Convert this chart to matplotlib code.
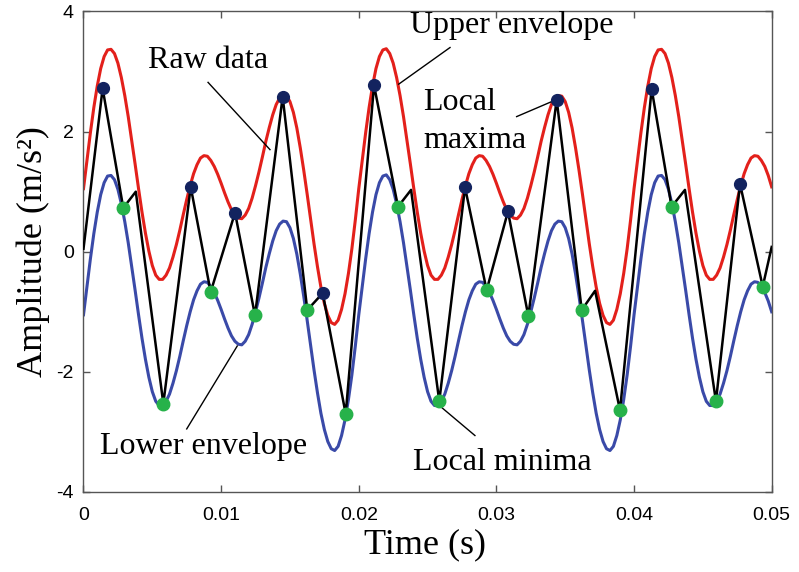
import numpy as np
import matplotlib
matplotlib.use("Agg")
import matplotlib.pyplot as plt

plt.rcParams["axes.unicode_minus"] = False

# Raw signal vertices (time in s, amplitude in m/s^2)
raw_t = [0.0, 0.00139, 0.00289, 0.0038, 0.0058, 0.00779, 0.00924, 0.01101,
         0.01246, 0.01447, 0.01626, 0.01738, 0.01905, 0.02111, 0.02285, 0.0238,
         0.02585, 0.02772, 0.02929, 0.03084, 0.03232, 0.03438, 0.0362, 0.03717,
         0.03898, 0.04128, 0.04273, 0.0437, 0.04595, 0.0477, 0.04935, 0.05]
raw_v = [0.05, 2.72, 0.73, 1.0, -2.53, 1.08, -0.67, 0.65,
         -1.06, 2.58, -0.97, -0.69, -2.70, 2.77, 0.75, 1.03,
         -2.49, 1.07, -0.64, 0.67, -1.07, 2.53, -0.97, -0.65,
         -2.64, 2.71, 0.75, 1.03, -2.49, 1.13, -0.58, 0.08]

# Local maxima / minima markers
max_t = [0.00139, 0.00779, 0.01101, 0.01447, 0.01738, 0.02111, 0.02772,
         0.03084, 0.03438, 0.04128, 0.0477]
max_v = [2.72, 1.08, 0.65, 2.58, -0.69, 2.77, 1.07, 0.67, 2.53, 2.71, 1.13]
min_t = [0.00289, 0.0058, 0.00924, 0.01246, 0.01626, 0.01905, 0.02285,
         0.02585, 0.02929, 0.03232, 0.0362, 0.03898, 0.04273, 0.04595, 0.04935]
min_v = [0.73, -2.53, -0.67, -1.06, -0.97, -2.70, 0.75, -2.49, -0.64, -1.07,
         -0.97, -2.64, 0.75, -2.49, -0.58]

# Envelopes, read every 0.25 ms (0 .. 0.02, 0.02025 .. 0.04, 0.04025 .. 0.05)
upper_a = [1.05, 1.52, 1.98, 2.40, 2.76, 3.05, 3.25, 3.36, 3.37, 3.30,
           3.14, 2.90, 2.60, 2.25, 1.86, 1.46, 1.05, 0.66, 0.31, 0.01,
           -0.23, -0.39, -0.46, -0.46, -0.39, -0.27, -0.09, 0.12, 0.36, 0.62,
           0.87, 1.10, 1.30, 1.45, 1.56, 1.60, 1.59, 1.52, 1.42, 1.29,
           1.14, 0.98, 0.83, 0.70, 0.61, 0.56, 0.55, 0.61, 0.72, 0.89,
           1.10, 1.33, 1.58, 1.84, 2.07, 2.28, 2.45, 2.56, 2.61, 2.60,
           2.50, 2.32, 2.06, 1.73, 1.36, 0.96, 0.54, 0.13, -0.25, -0.59,
           -0.86, -1.06, -1.18, -1.21, -1.14, -0.96, -0.70, -0.36, 0.05, 0.53,
           1.05]
upper_b = [1.52, 1.98, 2.40, 2.76, 3.05, 3.25, 3.36, 3.38, 3.30, 3.14,
           2.90, 2.60, 2.25, 1.86, 1.46, 1.05, 0.66, 0.31, 0.01, -0.23,
           -0.39, -0.46, -0.46, -0.39, -0.27, -0.09, 0.12, 0.36, 0.62, 0.87,
           1.10, 1.30, 1.45, 1.56, 1.60, 1.59, 1.52, 1.42, 1.29, 1.14,
           0.98, 0.83, 0.70, 0.61, 0.56, 0.55, 0.61, 0.72, 0.89, 1.10,
           1.33, 1.58, 1.84, 2.07, 2.28, 2.45, 2.56, 2.60, 2.59, 2.50,
           2.32, 2.06, 1.73, 1.36, 0.96, 0.54, 0.13, -0.25, -0.59, -0.86,
           -1.06, -1.18, -1.21, -1.14, -0.96, -0.70, -0.36, 0.05, 0.53, 1.05]
upper_c = [1.52, 1.98, 2.40, 2.76, 3.05, 3.25, 3.36, 3.37, 3.30, 3.14,
           2.90, 2.60, 2.25, 1.86, 1.46, 1.05, 0.66, 0.31, 0.01, -0.23,
           -0.39, -0.46, -0.46, -0.39, -0.27, -0.09, 0.12, 0.36, 0.62, 0.87,
           1.10, 1.30, 1.45, 1.56, 1.60, 1.59, 1.52, 1.42, 1.27, 1.08]
lower_a = [-1.05, -0.58, -0.12, 0.30, 0.66, 0.95, 1.15, 1.26, 1.27, 1.20,
           1.04, 0.80, 0.50, 0.15, -0.24, -0.64, -1.05, -1.44, -1.79, -2.09,
           -2.33, -2.49, -2.56, -2.56, -2.49, -2.37, -2.19, -1.98, -1.74, -1.48,
           -1.23, -1.00, -0.80, -0.65, -0.54, -0.50, -0.51, -0.58, -0.68, -0.81,
           -0.96, -1.12, -1.27, -1.40, -1.49, -1.54, -1.55, -1.49, -1.38, -1.21,
           -1.00, -0.77, -0.52, -0.26, -0.03, 0.18, 0.35, 0.46, 0.51, 0.50,
           0.40, 0.22, -0.04, -0.37, -0.74, -1.14, -1.56, -1.97, -2.35, -2.69,
           -2.96, -3.16, -3.28, -3.31, -3.24, -3.06, -2.80, -2.46, -2.05, -1.57,
           -1.05]
lower_b = [-0.58, -0.12, 0.30, 0.66, 0.95, 1.15, 1.26, 1.28, 1.20, 1.04,
           0.80, 0.50, 0.15, -0.24, -0.64, -1.05, -1.44, -1.79, -2.09, -2.33,
           -2.49, -2.56, -2.56, -2.49, -2.37, -2.19, -1.98, -1.74, -1.48, -1.23,
           -1.00, -0.80, -0.65, -0.54, -0.50, -0.51, -0.58, -0.68, -0.81, -0.96,
           -1.12, -1.27, -1.40, -1.49, -1.54, -1.55, -1.49, -1.38, -1.21, -1.00,
           -0.77, -0.52, -0.26, -0.03, 0.18, 0.35, 0.46, 0.51, 0.50, 0.40,
           0.22, -0.04, -0.37, -0.74, -1.14, -1.56, -1.97, -2.35, -2.69, -2.96,
           -3.16, -3.28, -3.31, -3.24, -3.06, -2.80, -2.46, -2.05, -1.57, -1.05]
lower_c = [-0.58, -0.12, 0.30, 0.66, 0.95, 1.15, 1.26, 1.27, 1.20, 1.04,
           0.80, 0.50, 0.15, -0.24, -0.64, -1.05, -1.44, -1.79, -2.09, -2.33,
           -2.49, -2.56, -2.56, -2.49, -2.37, -2.19, -1.98, -1.74, -1.48, -1.23,
           -1.00, -0.80, -0.65, -0.54, -0.50, -0.51, -0.58, -0.68, -0.82, -1.00]

upper = upper_a + upper_b + upper_c
lower = lower_a + lower_b + lower_c
env_t = np.arange(len(upper)) * 0.00025

x_ticks = [0, 0.01, 0.02, 0.03, 0.04, 0.05]
x_labels = ["0", "0.01", "0.02", "0.03", "0.04", "0.05"]
y_ticks = [-4, -2, 0, 2, 4]

serif = "Liberation Serif"
sans = "Liberation Sans"

fig = plt.figure(figsize=(7.99, 5.72), dpi=100)
ax = fig.add_axes([0.1045, 0.1399, 0.8613, 0.8400])

ax.plot(env_t, upper, color="#e3201b", lw=2.2, zorder=2, solid_joinstyle="round")
ax.plot(env_t, lower, color="#3a4aa8", lw=2.2, zorder=2, solid_joinstyle="round")
ax.plot(raw_t, raw_v, color="black", lw=1.8, zorder=3)
ax.plot(max_t, max_v, "o", color="#13235f", ms=8.5, zorder=4)
ax.plot(min_t, min_v, "o", color="#27b24a", ms=9, zorder=4)

# Annotations with leader lines
txt = dict(fontsize=23, family=serif, color="black", va="baseline", ha="left")
ax.text(0.00469, 3.06, "Raw data", **txt)
ax.plot([0.00905, 0.01355], [2.82, 1.70], color="black", lw=1)
ax.text(0.02372, 3.64, "Upper envelope", **txt)
ax.plot([0.02663, 0.0229], [3.40, 2.79], color="black", lw=1)
ax.text(0.02467, 2.36, "Local", **txt)
ax.text(0.02467, 1.73, "maxima", **txt)
ax.plot([0.03147, 0.03402], [2.25, 2.50], color="black", lw=1)
ax.text(0.0012, -3.36, "Lower envelope", **txt)
ax.plot([0.0075, 0.01117], [-2.95, -1.57], color="black", lw=1)
ax.text(0.02393, -3.63, "Local minima", **txt)
ax.plot([0.02844, 0.02585], [-3.06, -2.56], color="black", lw=1)

ax.set_xlim(0, 0.05)
ax.set_ylim(-4, 4)
ax.set_xticks(x_ticks)
ax.set_xticklabels(x_labels)
ax.set_yticks(y_ticks)
ax.tick_params(direction="in", top=True, right=True, length=5, width=1,
               color="#555555", labelsize=14, pad=7)
ax.tick_params(axis="x", pad=11)
for lab in ax.get_xticklabels() + ax.get_yticklabels():
    lab.set_family(sans)
for sp in ax.spines.values():
    sp.set_color("#555555")
    sp.set_linewidth(1)

ax.set_xlabel("Time (s)", family=serif, fontsize=26, va="center")
ax.set_ylabel("Amplitude (m/s²)", family=serif, fontsize=26, va="center")
ax.xaxis.set_label_coords(0.496, -0.110)
ax.yaxis.set_label_coords(-0.0727, 0.5)

fig.savefig("out.png", dpi=100)
